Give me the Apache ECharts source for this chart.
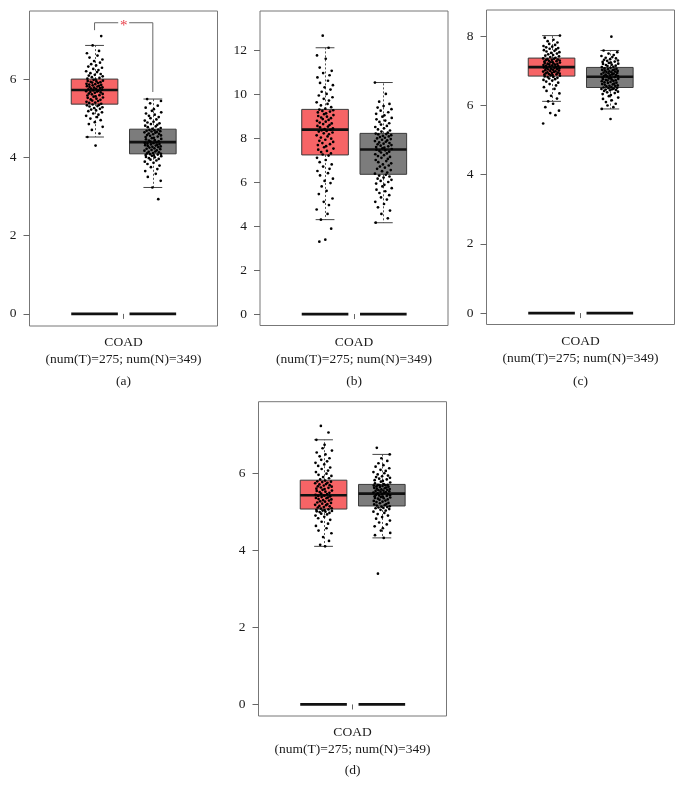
<!DOCTYPE html>
<html><head><meta charset="utf-8">
<script src="https://cdn.jsdelivr.net/npm/echarts@6/dist/echarts.min.js"></script>
<style>html,body{margin:0;padding:0;background:#fff}#c{width:684px;height:802px}</style>
</head><body><div id="c"></div>
<script>
// ---------------- data ----------------
const panelLabels = ['(a)', '(b)', '(c)', '(d)'];
const categoryLabel = 'COAD';
const countLabel = '(num(T)=275; num(N)=349)';
const yTicks = [[0, 2, 4, 6], [0, 2, 4, 6, 8, 10, 12], [0, 2, 4, 6, 8], [0, 2, 4, 6]];
const yRange = [[-0.31, 7.74], [-0.52, 13.77], [-0.33, 8.76], [-0.30, 7.87]];
// [lower whisker, Q1, median, Q3, upper whisker]
const boxTumor = [[4.52, 5.36, 5.72, 6.00, 6.86], [4.29, 7.23, 8.38, 9.30, 12.10], [6.12, 6.85, 7.11, 7.37, 8.02], [4.11, 5.08, 5.44, 5.83, 6.88]];
const boxNormal = [[3.23, 4.09, 4.39, 4.72, 5.49], [4.15, 6.35, 7.48, 8.21, 10.52], [5.90, 6.52, 6.83, 7.10, 7.59], [4.33, 5.16, 5.48, 5.72, 6.50]];
const zeroLevel = [0, 0, 0, 0];
// significance bracket (panel a): left foot, top, right foot
const bracketA = [7.25, 7.44, 5.67];
const sigMark = '*';

const ptsA_T = [4.30,4.52,4.61,4.70,4.78,4.85,4.90,4.95,4.99,5.03,5.06,5.09,5.12,5.15,5.18,5.20,5.22,5.24,5.26,5.28,5.30,5.31,5.33,5.34,5.35,
5.37,5.39,5.40,5.42,5.44,5.45,5.47,5.48,5.50,5.52,5.53,5.55,5.56,5.58,5.59,5.61,5.62,5.63,5.65,5.66,5.67,5.68,5.69,5.70,5.71,
5.73,5.74,5.75,5.76,5.77,5.78,5.79,5.80,5.81,5.82,5.83,5.84,5.85,5.86,5.87,5.88,5.90,5.91,5.92,5.93,5.94,5.95,5.96,5.98,5.99,
6.01,6.03,6.05,6.07,6.09,6.11,6.13,6.15,6.18,6.20,6.23,6.26,6.29,6.32,6.35,6.38,6.42,6.46,6.50,6.55,6.60,6.66,6.72,6.86,7.10];
const ptsA_N = [2.93,3.23,3.40,3.50,3.58,3.65,3.70,3.75,3.79,3.83,3.86,3.89,3.92,3.94,3.96,3.98,4.00,4.01,4.03,4.04,4.05,4.06,4.07,4.08,4.09,
4.10,4.11,4.13,4.14,4.15,4.17,4.18,4.19,4.21,4.22,4.23,4.25,4.26,4.27,4.28,4.29,4.30,4.31,4.32,4.33,4.34,4.35,4.36,4.37,4.38,
4.40,4.41,4.43,4.44,4.46,4.47,4.49,4.50,4.52,4.53,4.55,4.56,4.57,4.59,4.60,4.61,4.63,4.64,4.65,4.66,4.67,4.68,4.69,4.70,4.71,
4.73,4.75,4.77,4.79,4.81,4.83,4.85,4.87,4.89,4.91,4.94,4.97,5.00,5.03,5.06,5.09,5.12,5.15,5.19,5.23,5.27,5.32,5.38,5.44,5.49];
const ptsB_T = [3.29,3.38,3.88,4.29,4.55,4.75,4.95,5.10,5.25,5.45,5.60,5.80,5.95,6.05,6.15,6.30,6.40,6.50,6.60,6.70,6.80,6.90,7.00,7.10,7.20,
7.25,7.30,7.36,7.41,7.47,7.52,7.58,7.63,7.68,7.72,7.77,7.82,7.87,7.92,7.97,8.02,8.07,8.12,8.17,8.21,8.25,8.29,8.32,8.35,8.37,
8.40,8.44,8.48,8.52,8.55,8.59,8.63,8.66,8.70,8.74,8.78,8.82,8.86,8.90,8.93,8.97,9.00,9.04,9.08,9.12,9.16,9.20,9.23,9.26,9.29,
9.33,9.40,9.48,9.55,9.62,9.70,9.78,9.85,9.93,10.00,10.10,10.20,10.30,10.40,10.50,10.60,10.75,10.85,10.95,11.05,11.20,11.60,11.75,12.10,12.65];
const ptsB_N = [4.15,4.35,4.55,4.70,4.85,5.00,5.10,5.20,5.30,5.40,5.50,5.58,5.65,5.72,5.80,5.87,5.93,6.00,6.05,6.10,6.15,6.20,6.25,6.29,6.33,
6.38,6.43,6.49,6.54,6.60,6.65,6.70,6.75,6.80,6.85,6.90,6.95,7.00,7.05,7.10,7.14,7.18,7.22,7.26,7.30,7.34,7.38,7.41,7.44,7.47,
7.50,7.53,7.56,7.59,7.62,7.65,7.68,7.71,7.74,7.77,7.80,7.83,7.86,7.89,7.92,7.95,7.98,8.01,8.04,8.07,8.10,8.13,8.16,8.18,8.20,
8.24,8.29,8.34,8.39,8.44,8.50,8.55,8.61,8.67,8.73,8.79,8.85,8.91,8.97,9.03,9.10,9.17,9.24,9.31,9.38,9.45,9.55,9.65,10.00,10.52];
const ptsC_T = [5.48,5.72,5.78,5.85,5.95,6.05,6.12,6.20,6.28,6.35,6.42,6.48,6.53,6.58,6.62,6.66,6.69,6.72,6.74,6.76,6.78,6.80,6.82,6.83,6.84,
6.86,6.87,6.88,6.89,6.90,6.91,6.92,6.93,6.94,6.95,6.96,6.97,6.98,6.99,7.00,7.01,7.02,7.03,7.04,7.05,7.06,7.07,7.08,7.09,7.10,
7.12,7.13,7.14,7.15,7.16,7.17,7.18,7.19,7.20,7.21,7.22,7.23,7.24,7.25,7.26,7.27,7.28,7.29,7.30,7.31,7.32,7.33,7.34,7.35,7.36,
7.38,7.40,7.42,7.44,7.46,7.48,7.50,7.52,7.54,7.56,7.58,7.60,7.62,7.64,7.66,7.68,7.70,7.72,7.75,7.78,7.82,7.86,7.90,7.96,8.02];
const ptsC_N = [5.61,5.90,5.95,6.00,6.05,6.10,6.15,6.19,6.23,6.27,6.30,6.33,6.36,6.38,6.40,6.42,6.44,6.45,6.46,6.47,6.48,6.49,6.50,6.51,6.52,
6.53,6.55,6.56,6.57,6.58,6.60,6.61,6.62,6.63,6.65,6.66,6.67,6.68,6.70,6.71,6.72,6.73,6.74,6.75,6.76,6.77,6.78,6.79,6.80,6.82,
6.84,6.85,6.86,6.87,6.88,6.89,6.90,6.91,6.92,6.93,6.94,6.95,6.96,6.97,6.98,6.99,7.00,7.01,7.02,7.03,7.04,7.05,7.06,7.07,7.09,
7.11,7.12,7.14,7.15,7.17,7.18,7.20,7.21,7.23,7.24,7.26,7.27,7.29,7.30,7.32,7.34,7.36,7.38,7.40,7.43,7.46,7.50,7.54,7.59,7.99];
const ptsD_T = [4.11,4.15,4.25,4.35,4.45,4.52,4.58,4.64,4.70,4.75,4.80,4.84,4.88,4.91,4.94,4.96,4.98,5.00,5.01,5.02,5.03,5.04,5.05,5.06,5.07,
5.09,5.10,5.12,5.13,5.15,5.16,5.18,5.19,5.21,5.22,5.24,5.25,5.27,5.28,5.30,5.31,5.33,5.34,5.36,5.37,5.38,5.39,5.41,5.42,5.43,
5.45,5.47,5.48,5.50,5.52,5.53,5.55,5.56,5.58,5.60,5.61,5.63,5.64,5.66,5.67,5.69,5.70,5.72,5.73,5.75,5.76,5.78,5.79,5.80,5.82,
5.85,5.88,5.91,5.94,5.97,6.00,6.04,6.08,6.12,6.16,6.20,6.24,6.28,6.32,6.36,6.40,6.45,6.50,6.55,6.60,6.66,6.75,6.88,7.07,7.24];
const ptsD_N = [3.40,4.33,4.40,4.46,4.52,4.58,4.63,4.68,4.73,4.78,4.83,4.87,4.91,4.95,4.98,5.01,5.04,5.06,5.08,5.10,5.11,5.12,5.13,5.14,5.15,
5.17,5.18,5.20,5.21,5.23,5.24,5.26,5.27,5.29,5.30,5.32,5.33,5.35,5.36,5.37,5.38,5.39,5.40,5.41,5.42,5.43,5.44,5.45,5.46,5.47,
5.49,5.50,5.51,5.52,5.53,5.54,5.55,5.56,5.57,5.58,5.59,5.60,5.61,5.62,5.63,5.64,5.65,5.66,5.67,5.68,5.69,5.70,5.70,5.71,5.71,
5.73,5.75,5.77,5.79,5.81,5.83,5.85,5.87,5.89,5.91,5.93,5.95,5.98,6.01,6.04,6.07,6.10,6.14,6.18,6.22,6.27,6.33,6.40,6.50,6.67];
const pointsTumor = [ptsA_T, ptsB_T, ptsC_T, ptsD_T];
const pointsNormal = [ptsA_N, ptsB_N, ptsC_N, ptsD_N];
// jitter offsets (fraction of jitter half-width)
const jitter = [0.12,-0.83,0.57,-0.31,0.94,-0.66,0.03,0.71,-0.48,0.29,-0.97,0.45,-0.15,0.86,-0.72,0.18,-0.39,0.63,-0.05,0.91,-0.58,0.34,-0.88,0.52,-0.22,0.77,-0.62,0.08,-0.93,0.41,-0.27,0.68,-0.45,0.22,-0.79,0.97,-0.11];

// ---------------- layout / style ----------------
const FONT = "'Liberation Serif','DejaVu Serif',serif";
const RED = '#F66466', GRAY = '#7C7C7C';
const POS_T = 0.346, POS_N = 0.656, BOX_HW = 0.124, CAP_HW = 0.05, JW = 0.046;
const grids = [
  {left: 29.5, top: 11, width: 188, height: 315},
  {left: 260, top: 11, width: 188, height: 314.5},
  {left: 486.5, top: 10, width: 188, height: 314.5},
  {left: 258.5, top: 401.7, width: 188, height: 314.3}
];
const titlePos = [[123.5, 374], [354, 374], [580.5, 374], [352.5, 763]];

function renderBox(params, api) {
  const pos = api.value(0), lo = api.value(1), q1 = api.value(2), md = api.value(3), q3 = api.value(4), hi = api.value(5);
  const fill = params.dataIndex === 0 ? RED : GRAY;
  const bl = api.coord([pos - BOX_HW, q1]), tr = api.coord([pos + BOX_HW, q3]);
  const c = api.coord([pos, md]);
  const pLo = api.coord([pos, lo]), pHi = api.coord([pos, hi]);
  const capL = api.coord([pos - CAP_HW, lo])[0], capR = api.coord([pos + CAP_HW, lo])[0];
  const cx = Math.round(c[0]) + 0.5;
  const dash = {stroke: '#555', lineWidth: 1, lineDash: [2, 2]};
  const cap = {stroke: '#444', lineWidth: 1};
  return {type: 'group', children: [
    {type: 'line', shape: {x1: cx, y1: tr[1], x2: cx, y2: pHi[1]}, style: dash},
    {type: 'line', shape: {x1: cx, y1: bl[1], x2: cx, y2: pLo[1]}, style: dash},
    {type: 'line', shape: {x1: capL, y1: pHi[1], x2: capR, y2: pHi[1]}, style: cap},
    {type: 'line', shape: {x1: capL, y1: pLo[1], x2: capR, y2: pLo[1]}, style: cap},
    {type: 'rect', shape: {x: bl[0], y: tr[1], width: tr[0] - bl[0], height: bl[1] - tr[1]}, style: {fill: fill, stroke: '#3a3a3a', lineWidth: 1}},
    {type: 'line', shape: {x1: bl[0], y1: c[1], x2: tr[0], y2: c[1]}, style: {stroke: '#111', lineWidth: 2.6}}
  ]};
}
function renderZero(params, api) {
  const pos = api.value(0), v = api.value(1);
  const a = api.coord([pos - BOX_HW, v]), b = api.coord([pos + BOX_HW, v]);
  return {type: 'line', shape: {x1: a[0], y1: a[1], x2: b[0], y2: b[1]}, style: {stroke: '#111', lineWidth: 2.8}};
}
function renderBracket(params, api) {
  const x1 = api.value(0), x2 = api.value(1), yl = api.value(2), yt = api.value(3), yr = api.value(4);
  const pL = api.coord([x1, yl]), pLT = api.coord([x1, yt]);
  const pR = api.coord([x2, yr]), pRT = api.coord([x2, yt]);
  const mid = (pLT[0] + pRT[0]) / 2;
  const st = {stroke: '#666', lineWidth: 1, fill: null};
  return {type: 'group', children: [
    {type: 'polyline', shape: {points: [pL, pLT, [mid - 5.5, pLT[1]]]}, style: st},
    {type: 'polyline', shape: {points: [[mid + 5.5, pRT[1]], pRT, pR]}, style: st},
    {type: 'text', x: mid, y: pLT[1] + 3, style: {text: sigMark, fill: '#E8404A', font: '15px ' + FONT, align: 'center', verticalAlign: 'middle'}}
  ]};
}

const option = {
  animation: false,
  backgroundColor: '#fff',
  title: panelLabels.map((t, i) => ({text: t, left: titlePos[i][0], top: titlePos[i][1], textAlign: 'center', padding: 0,
    textStyle: {fontFamily: FONT, fontSize: 13.5, fontWeight: 'normal', color: '#1a1a1a'}})),
  grid: grids.map(g => Object.assign({show: true, borderColor: '#777', borderWidth: 1, backgroundColor: 'transparent', containLabel: false}, g)),
  xAxis: grids.map((g, i) => ({
    type: 'value', gridIndex: i, min: 0, max: 1,
    splitLine: {show: false}, axisLine: {show: false},
    axisTick: {show: true, customValues: [0.5], length: 5, lineStyle: {color: '#666'}},
    axisLabel: {show: true, customValues: [0.5], margin: 8, formatter: () => categoryLabel + '\n' + countLabel,
      fontFamily: FONT, fontSize: 13.5, color: '#1a1a1a', lineHeight: 17}
  })),
  yAxis: grids.map((g, i) => ({
    type: 'value', gridIndex: i, min: yRange[i][0], max: yRange[i][1],
    splitLine: {show: false}, axisLine: {show: false},
    axisTick: {show: true, customValues: yTicks[i], length: 6, lineStyle: {color: '#666'}},
    axisLabel: {show: true, customValues: yTicks[i], margin: 13, fontFamily: FONT, fontSize: 13.5, color: '#1a1a1a'}
  })),
  series: []
};
for (let i = 0; i < 4; i++) {
  option.series.push({
    type: 'custom', xAxisIndex: i, yAxisIndex: i, renderItem: renderBox, silent: true, z: 2,
    encode: {x: 0, y: [1, 2, 3, 4, 5]},
    data: [[POS_T].concat(boxTumor[i]), [POS_N].concat(boxNormal[i])]
  });
  option.series.push({
    type: 'custom', xAxisIndex: i, yAxisIndex: i, renderItem: renderZero, silent: true, z: 3,
    encode: {x: 0, y: 1},
    data: [[POS_T, zeroLevel[i]], [POS_N, zeroLevel[i]]]
  });
  const mk = (vals, pos, ph) => vals.map((v, k) => [pos + jitter[(k + ph) % jitter.length] * JW, v]);
  option.series.push({
    type: 'scatter', xAxisIndex: i, yAxisIndex: i, silent: true, z: 4, symbolSize: 2.7,
    itemStyle: {color: '#000', opacity: 1},
    data: mk(pointsTumor[i], POS_T, i * 5).concat(mk(pointsNormal[i], POS_N, i * 5 + 17))
  });
}
option.series.push({
  type: 'custom', xAxisIndex: 0, yAxisIndex: 0, renderItem: renderBracket, silent: true, z: 5,
  encode: {x: [0, 1], y: [2, 3, 4]},
  data: [[POS_T, POS_N].concat(bracketA)]
});

const chart = echarts.init(document.getElementById('c'), null, {renderer: 'canvas'});
chart.setOption(option);
</script>
</body></html>
